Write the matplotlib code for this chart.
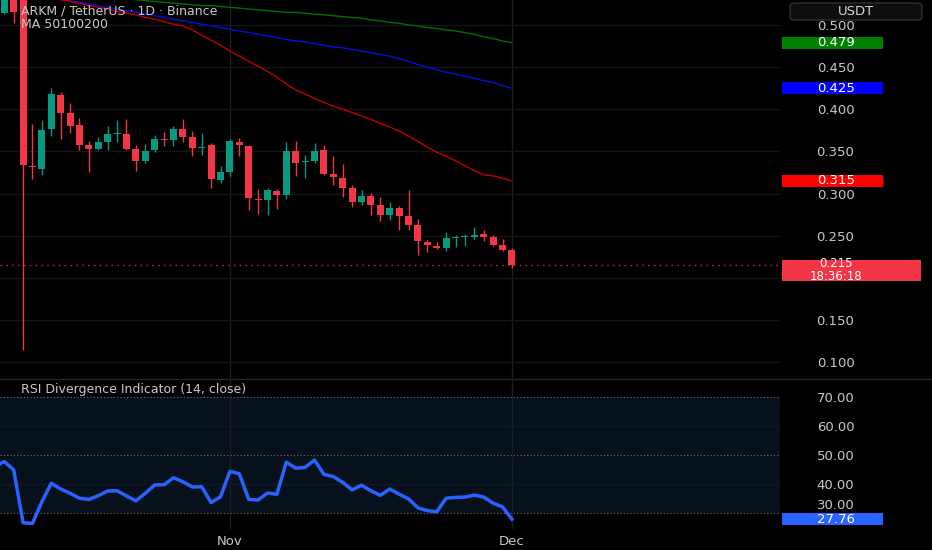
import numpy as np
import pandas as pd
import matplotlib
matplotlib.use("Agg")
import matplotlib.pyplot as plt
import matplotlib.dates as mdates
from matplotlib.patches import Rectangle, FancyBboxPatch
from matplotlib.lines import Line2D
from matplotlib.ticker import FixedFormatter

# ---------------- data ----------------
dates = pd.date_range("2025-10-07", periods=56, freq="D")

open_ = [0.530, 0.514, 0.545, 0.540, 0.333, 0.329, 0.376, 0.417, 0.396, 0.381,
         0.358, 0.353, 0.361, 0.371, 0.371, 0.353, 0.338, 0.352, 0.365, 0.364,
         0.376, 0.367, 0.354, 0.357, 0.316, 0.325, 0.361, 0.356, 0.294, 0.292,
         0.303, 0.298, 0.350, 0.337, 0.339, 0.352, 0.323, 0.319, 0.307, 0.290,
         0.297, 0.286, 0.275, 0.283, 0.273, 0.263, 0.243, 0.238, 0.235, 0.247,
         0.248, 0.248, 0.252, 0.248, 0.239, 0.233]
high = [0.548, 0.555, 0.552, 0.556, 0.382, 0.387, 0.425, 0.420, 0.407, 0.390,
        0.362, 0.367, 0.380, 0.387, 0.388, 0.357, 0.359, 0.369, 0.373, 0.380,
        0.388, 0.374, 0.372, 0.360, 0.333, 0.365, 0.366, 0.357, 0.305, 0.306,
        0.305, 0.361, 0.362, 0.346, 0.360, 0.358, 0.345, 0.335, 0.310, 0.304,
        0.301, 0.296, 0.290, 0.285, 0.304, 0.270, 0.245, 0.243, 0.254, 0.251,
        0.252, 0.260, 0.257, 0.251, 0.246, 0.235]
low = [0.505, 0.513, 0.502, 0.114, 0.317, 0.322, 0.368, 0.365, 0.372, 0.352,
       0.326, 0.352, 0.352, 0.361, 0.352, 0.327, 0.336, 0.349, 0.356, 0.356,
       0.361, 0.345, 0.346, 0.306, 0.313, 0.321, 0.345, 0.280, 0.276, 0.275,
       0.282, 0.294, 0.321, 0.318, 0.336, 0.322, 0.310, 0.296, 0.284, 0.286,
       0.275, 0.267, 0.268, 0.257, 0.257, 0.227, 0.231, 0.234, 0.232, 0.237,
       0.238, 0.246, 0.244, 0.238, 0.232, 0.212]
close = [0.514, 0.545, 0.515, 0.334, 0.331, 0.375, 0.418, 0.396, 0.380, 0.358,
         0.353, 0.361, 0.371, 0.372, 0.353, 0.338, 0.351, 0.365, 0.364, 0.376,
         0.367, 0.354, 0.355, 0.317, 0.325, 0.362, 0.357, 0.295, 0.292, 0.304,
         0.298, 0.350, 0.336, 0.338, 0.351, 0.323, 0.320, 0.307, 0.290, 0.297,
         0.286, 0.275, 0.283, 0.273, 0.263, 0.244, 0.239, 0.235, 0.247, 0.248,
         0.249, 0.251, 0.248, 0.239, 0.233, 0.215]

ma50 = [0.547, 0.545, 0.543, 0.540, 0.537, 0.535, 0.532, 0.530, 0.528, 0.526,
        0.523, 0.521, 0.519, 0.516, 0.514, 0.512, 0.509, 0.507, 0.504, 0.501,
        0.499, 0.494, 0.488, 0.482, 0.476, 0.469, 0.463, 0.457, 0.451, 0.445,
        0.438, 0.430, 0.423, 0.418, 0.413, 0.408, 0.404, 0.400, 0.396, 0.392,
        0.388, 0.383, 0.379, 0.374, 0.368, 0.362, 0.355, 0.349, 0.344, 0.339,
        0.333, 0.327, 0.322, 0.321, 0.318, 0.315]
ma100 = [0.545, 0.543, 0.541, 0.539, 0.537, 0.535, 0.533, 0.531, 0.529, 0.527,
         0.525, 0.523, 0.521, 0.519, 0.517, 0.515, 0.513, 0.511, 0.509, 0.507,
         0.505, 0.503, 0.501, 0.499, 0.497, 0.495, 0.493, 0.491, 0.489, 0.487,
         0.485, 0.483, 0.481, 0.480, 0.478, 0.476, 0.474, 0.473, 0.471, 0.469,
         0.467, 0.465, 0.463, 0.460, 0.457, 0.453, 0.450, 0.447, 0.444, 0.442,
         0.439, 0.437, 0.434, 0.432, 0.428, 0.425]
ma200 = [0.544, 0.543, 0.542, 0.541, 0.540, 0.539, 0.538, 0.537, 0.536, 0.535,
         0.534, 0.533, 0.533, 0.532, 0.531, 0.530, 0.529, 0.528, 0.527, 0.526,
         0.525, 0.524, 0.523, 0.523, 0.522, 0.521, 0.520, 0.519, 0.518, 0.517,
         0.516, 0.515, 0.515, 0.514, 0.513, 0.512, 0.511, 0.510, 0.509, 0.508,
         0.506, 0.505, 0.503, 0.502, 0.500, 0.499, 0.497, 0.496, 0.494, 0.493,
         0.491, 0.489, 0.486, 0.484, 0.481, 0.479]

rsi = [46.0, 47.7, 44.8, 26.5, 26.3, 33.8, 40.2, 38.2, 36.7, 35.0,
       34.6, 35.9, 37.5, 37.6, 35.8, 34.1, 36.7, 39.6, 39.7, 42.1,
       40.7, 38.9, 39.0, 33.5, 35.5, 44.3, 43.5, 34.6, 34.4, 36.8,
       36.4, 47.5, 45.4, 45.7, 48.2, 43.3, 42.5, 40.5, 37.9, 39.5,
       37.6, 36.0, 38.2, 36.4, 34.8, 31.7, 30.7, 30.3, 35.0, 35.3,
       35.4, 36.1, 35.4, 33.3, 32.0, 27.76]

price_ticks = [0.100, 0.150, 0.200, 0.250, 0.300, 0.350, 0.400, 0.450, 0.500]
# 0.200 is hidden behind the last-price badge in the reference
price_tick_labels = ["0.100", "0.150", "", "0.250", "0.300", "0.350", "0.400", "0.450", "0.500"]
rsi_ticks = [30, 40, 50, 60, 70]
# 30.00 is drawn separately, just above the RSI value badge
rsi_tick_labels = ["", "40.00", "50.00", "60.00", "70.00"]
rsi_low_label = "30.00"
title_main = "ARKM / TetherUS · 1D · Binance"
title_ma = "MA 50100200"
title_rsi = "RSI Divergence Indicator (14, close)"
currency = "USDT"
countdown = "18:36:18"

# ---------------- style ----------------
GREEN = "#089981"
RED = "#f23645"
TXT = "#c8c8c8"
W, H = 932, 550

def fx(px):
    return px / W

def fy(py):
    return 1 - py / H

fig = plt.figure(figsize=(W / 100, H / 100), dpi=100, facecolor="black")
ax = fig.add_axes([0, fy(378), fx(780), 378 / H])
axr = fig.add_axes([0, fy(529), fx(780), (529 - 379) / H], sharex=ax)

for a in (ax, axr):
    a.set_facecolor("black")
    for s in a.spines.values():
        s.set_visible(False)

x = mdates.date2num(dates)
o = np.array(open_); h = np.array(high); l = np.array(low); c = np.array(close)
colors = np.where(c >= o, GREEN, RED)

# candles
ax.vlines(x, l, h, colors=colors, lw=1.0, zorder=3)
bot = np.minimum(o, c)
hgt = np.maximum(np.abs(c - o), 0.0012)
ax.bar(x, hgt, bottom=bot, width=0.74, color=colors, linewidth=0, zorder=4)

# moving averages
ax.plot(x, ma200, color="#006e00", lw=1.0, zorder=2)
ax.plot(x, ma100, color="#0010d8", lw=1.0, zorder=2)
ax.plot(x, ma50, color="#c00000", lw=1.0, zorder=2)

# current price line
ax.axhline(close[-1], color=RED, lw=1.0, ls=(0, (1.2, 3.0)), alpha=0.75, zorder=2)

x0 = x[1] - 0.457
x1 = x[1] + 82.52
ax.set_xlim(x0, x1)
ax.set_ylim(0.0810, 0.5297)

ax.set_yticks(price_ticks)
ax.yaxis.set_major_formatter(FixedFormatter(price_tick_labels))
ax.yaxis.tick_right()
ax.tick_params(axis="y", length=0, pad=40, labelsize=9.5, labelcolor=TXT)
for lb in ax.get_yticklabels():
    lb.set_horizontalalignment("center")
ax.tick_params(axis="x", length=0, labelbottom=False)
ax.grid(axis="y", color="#151515", lw=1.0)
ax.grid(axis="x", color="#1e1e1e", lw=1.0)
ax.set_axisbelow(True)

# RSI pane
axr.axhspan(30, 70, color="#06111b", zorder=0, lw=0)
for v in (60, 40):
    axr.axhline(v, color="#0f1a25", lw=1.0, zorder=1)
for v in (70, 50, 30):
    axr.axhline(v, color="#6b6e76", lw=0.8, ls=(0, (1, 2)), zorder=1)
axr.plot(x, rsi, color="#2962ff", lw=2.5, zorder=3)
axr.set_ylim(24.35, 76.3)
axr.set_yticks(rsi_ticks)
axr.yaxis.set_major_formatter(FixedFormatter(rsi_tick_labels))
axr.yaxis.tick_right()
axr.tick_params(axis="y", length=0, pad=40, labelsize=9.5, labelcolor=TXT)
for lb in axr.get_yticklabels():
    lb.set_horizontalalignment("center")
axr.xaxis.set_major_locator(mdates.MonthLocator())
axr.xaxis.set_major_formatter(mdates.DateFormatter("%b"))
axr.tick_params(axis="x", length=0, pad=4, labelsize=9.5, labelcolor=TXT)
axr.grid(axis="x", color="#1e1e1e", lw=1.0)
axr.set_axisbelow(True)

# titles
fig.text(fx(21), fy(11), title_main, va="center", ha="left", fontsize=9, color=TXT)
fig.text(fx(21), fy(24), title_ma, va="center", ha="left", fontsize=9, color=TXT)
fig.text(fx(21), fy(389), title_rsi, va="center", ha="left", fontsize=9, color=TXT)

# separator
fig.add_artist(Line2D([0, 1], [fy(378.5), fy(378.5)], transform=fig.transFigure,
                      color="#262626", lw=1.0))

# price-scale badges
inv = fig.transFigure.inverted()

def to_fig_y(axis, v):
    disp = axis.transData.transform((axis.get_xlim()[0], v))
    return inv.transform(disp)[1]

def badge(axis, value, color, label, xl=782, xr=883, hpx=12, extra=None):
    yc = to_fig_y(axis, value)
    hh = hpx / 2 / H
    if extra is None:
        rect = Rectangle((fx(xl), yc - hh), fx(xr) - fx(xl), 2 * hh,
                         transform=fig.transFigure, facecolor=color, lw=0, zorder=5)
        fig.add_artist(rect)
        fig.text(fx(836), yc, label, ha="center", va="center", color="white",
                 fontsize=9.5, zorder=6)
    else:
        top = yc + 5.5 / H
        bottom = top - 21 / H
        rect = Rectangle((fx(xl), bottom), fx(xr) - fx(xl), top - bottom,
                         transform=fig.transFigure, facecolor=color, lw=0, zorder=5)
        fig.add_artist(rect)
        fig.text(fx(836), (top + bottom) / 2, label + "\n" + extra, ha="center",
                 va="center", color="white", fontsize=8.5, linespacing=0.95,
                 zorder=6)
    return yc

badge(ax, ma200[-1], "#008000", f"{ma200[-1]:.3f}")
badge(ax, ma100[-1], "#0000ff", f"{ma100[-1]:.3f}")
badge(ax, ma50[-1], "#ff0000", f"{ma50[-1]:.3f}")
badge(ax, close[-1], RED, f"{close[-1]:.3f}", xr=921, extra=countdown)
yc_rsi = badge(axr, rsi[-1], "#2962ff", f"{rsi[-1]:.2f}")

# 30.00 label nudged to sit just above the RSI badge
fig.text(fx(836), yc_rsi + 13.5 / H, rsi_low_label, ha="center", va="center",
         color=TXT, fontsize=9.5, zorder=4)

# currency box
box = FancyBboxPatch((fx(790), fy(20)), fx(922) - fx(790), 17 / H,
                     boxstyle="round,pad=0,rounding_size=0.006",
                     transform=fig.transFigure, facecolor="#0e0e0e",
                     edgecolor="#2e2e2e", lw=1.0, zorder=5)
fig.add_artist(box)
fig.text(fx(856), fy(11.5), currency, ha="center", va="center", color="#d6d6d6",
         fontsize=9.5, zorder=6)

fig.savefig("out.png", dpi=100, facecolor="black")
